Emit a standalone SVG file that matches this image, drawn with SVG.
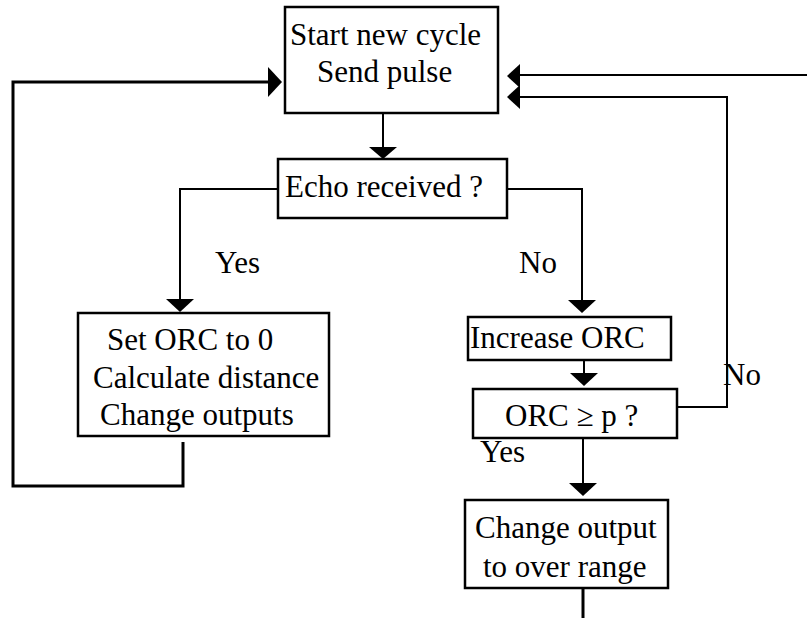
<svg xmlns="http://www.w3.org/2000/svg" width="807" height="618" viewBox="0 0 807 618">
<style>
.box{fill:#fff;stroke:#000;stroke-width:2.5}
.t{font-family:"Liberation Serif","Times New Roman",serif;font-size:31px;fill:#000}
.ln{fill:none;stroke:#000;stroke-width:2}
.thk{fill:none;stroke:#000;stroke-width:3}
.ah{fill:#000}
</style>
<rect width="807" height="618" fill="#fff"/>
<g id="connectors">
<polyline class="ln" points="383,113 383,148"/>
<polygon class="ah" points="369,147 397,147 383,159"/>
<polyline class="ln" points="278,189 180,189 180,300"/>
<polygon class="ah" points="166,299 194,299 180,312"/>
<polyline class="ln" points="507,189 582,189 582,301"/>
<polygon class="ah" points="568,300 596,300 582,313"/>
<polyline class="ln" points="584,360 584,374"/>
<polygon class="ah" points="570,373 598,373 584,386"/>
<polyline class="ln" points="583,438 583,484"/>
<polygon class="ah" points="569,483 597,483 583,496"/>
<polyline class="ln" points="677,407 727,407 727,97 518,97"/>
<polygon class="ah" points="507,97 520,85 520,109"/>
<polyline class="ln" points="807,75 518,75"/>
<polygon class="ah" points="507,76 520,64 520,88"/>
<polyline class="thk" points="183,442 183,486 13,486 13,82 269,82"/>
<polygon class="ah" points="282,82 268,67 268,97"/>
<polyline class="thk" points="583,583 583,618"/>
</g>
<g id="start">
<rect class="box" x="285" y="7" width="213" height="106"/>
<text class="t" x="290" y="45">Start new cycle</text>
<text class="t" x="317" y="82">Send pulse</text>
</g>
<g id="echo">
<rect class="box" x="278" y="159" width="229" height="59"/>
<text class="t" x="285" y="197">Echo received ?</text>
</g>
<g id="setorc">
<rect class="box" x="78" y="313" width="251" height="123"/>
<text class="t" x="107" y="350">Set ORC to 0</text>
<text class="t" x="93" y="388">Calculate distance</text>
<text class="t" x="100" y="425">Change outputs</text>
</g>
<g id="increase">
<rect class="box" x="468" y="317" width="203" height="43"/>
<text class="t" x="470" y="348">Increase ORC</text>
</g>
<g id="orcp">
<rect class="box" x="473" y="389" width="204" height="49"/>
<text class="t" x="505" y="426">ORC ≥ p ?</text>
</g>
<g id="overrange">
<rect class="box" x="465" y="500" width="203" height="88"/>
<text class="t" x="475" y="538">Change output</text>
<text class="t" x="483" y="577">to over range</text>
</g>
<g id="labels">
<text class="t" x="215" y="273">Yes</text>
<text class="t" x="519" y="273">No</text>
<text class="t" x="723" y="385">No</text>
<text class="t" x="480" y="462">Yes</text>
</g>
</svg>
